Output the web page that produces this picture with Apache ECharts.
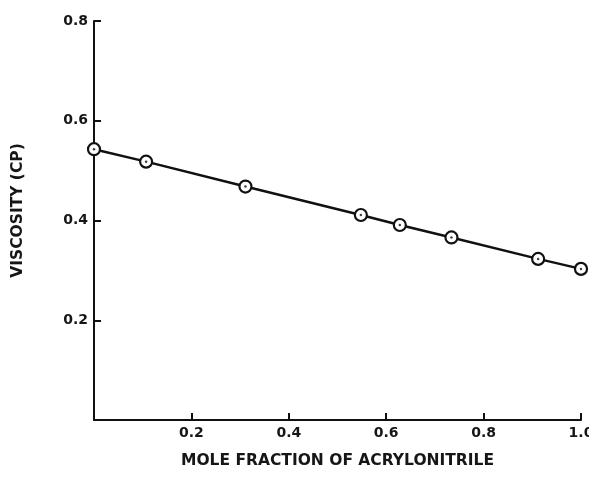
<!DOCTYPE html>
<html>
<head>
<meta charset="utf-8">
<script src="https://cdn.jsdelivr.net/npm/echarts@6/dist/echarts.min.js"></script>
<style>html,body{margin:0;padding:0;background:#fff;}#c{width:589px;height:479px;}</style>
</head>
<body>
<div id="c"></div>
<script>
var moleFraction = [0.0, 0.107, 0.311, 0.548, 0.628, 0.734, 0.912, 1.0];
var viscosity = [0.543, 0.518, 0.468, 0.411, 0.391, 0.366, 0.323, 0.303];
var xTicks = [0.2, 0.4, 0.6, 0.8, 1.0];
var yTicks = [0.2, 0.4, 0.6, 0.8];
var xTitle = 'MOLE FRACTION OF ACRYLONITRILE';
var yTitle = 'VISCOSITY (CP)';

var pts = moleFraction.map(function (x, i) { return [x, viscosity[i]]; });
var font = 'DejaVu Sans';
var chart = echarts.init(document.getElementById('c'), null, {renderer: 'canvas'});
chart.setOption({
  animation: false,
  backgroundColor: '#ffffff',
  grid: {left: 94, right: 8, top: 21, bottom: 59, containLabel: false, outerBoundsMode: 'none'},
  xAxis: {
    type: 'value', min: 0, max: 1.0, interval: 0.2,
    name: xTitle, nameLocation: 'middle', nameGap: 33,
    nameTextStyle: {fontFamily: font, fontSize: 15.5, fontWeight: 'bold', color: '#161616'},
    axisLine: {show: true, lineStyle: {color: '#111', width: 2}},
    axisTick: {show: true, inside: true, length: 7, lineStyle: {color: '#111', width: 2}},
    axisLabel: {
      fontFamily: font, fontSize: 14, fontWeight: 'bold', color: '#161616', margin: 6,
      formatter: function (v) { return xTicks.indexOf(+v.toFixed(1)) >= 0 ? v.toFixed(1) : ''; }
    },
    splitLine: {show: false}
  },
  yAxis: {
    type: 'value', min: 0, max: 0.8, interval: 0.2,
    name: yTitle, nameLocation: 'middle', nameGap: 68, nameRotate: 90,
    nameTextStyle: {fontFamily: font, fontSize: 15.5, fontWeight: 'bold', color: '#161616', padding: [0, 0, 0, 20]},
    axisLine: {show: true, lineStyle: {color: '#111', width: 2}},
    axisTick: {show: true, inside: true, length: 7, lineStyle: {color: '#111', width: 2}},
    axisLabel: {
      fontFamily: font, fontSize: 14, fontWeight: 'bold', color: '#161616', margin: 6,
      formatter: function (v) { return yTicks.indexOf(+v.toFixed(1)) >= 0 ? v.toFixed(1) : ''; }
    },
    splitLine: {show: false}
  },
  series: [
    {
      type: 'line', data: pts, symbol: 'circle', symbolSize: 12,
      itemStyle: {color: '#ffffff', borderColor: '#111', borderWidth: 2.2},
      lineStyle: {color: '#111', width: 2.5},
      z: 2
    },
    {
      type: 'scatter', data: pts, symbol: 'circle', symbolSize: 2.5,
      itemStyle: {color: '#111'}, z: 3
    }
  ]
});
</script>
</body>
</html>
